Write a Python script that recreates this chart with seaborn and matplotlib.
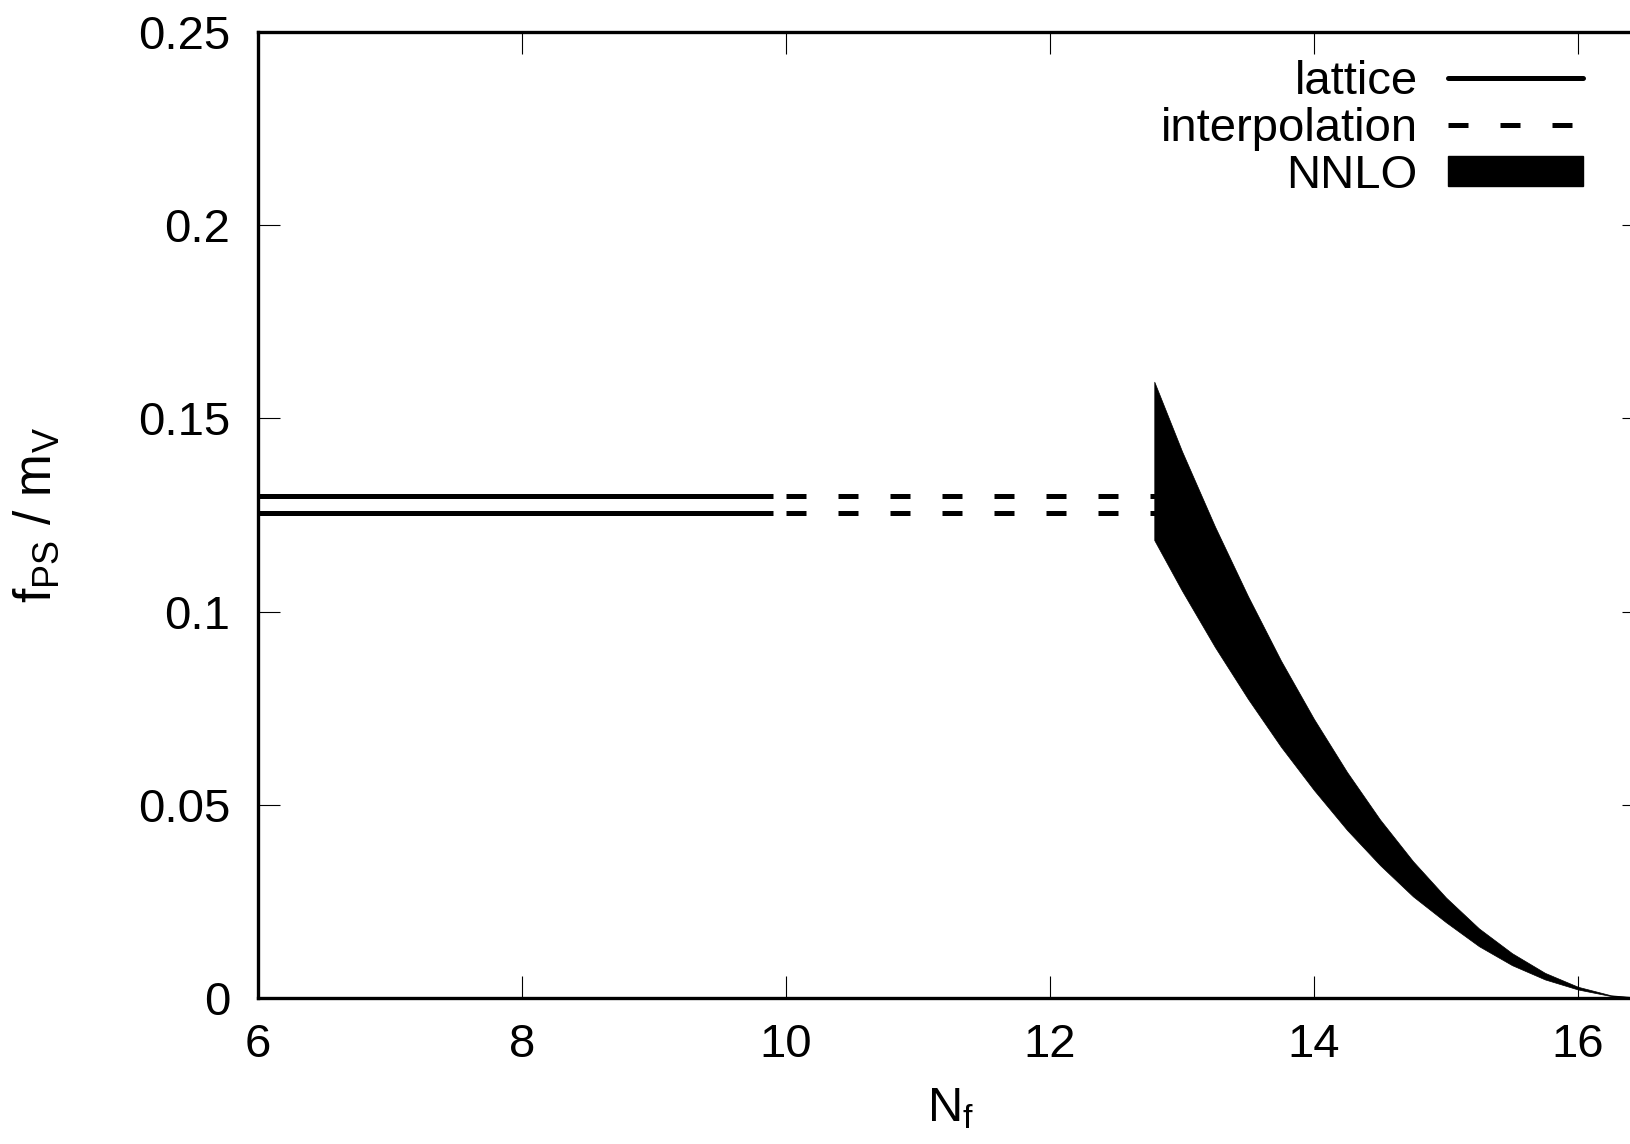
import matplotlib
matplotlib.use("Agg")
import matplotlib.pyplot as plt
from matplotlib.lines import Line2D
from matplotlib.patches import Patch
import seaborn as sns

# ──────────────────────────────────────────────────────────────
# Data
# ──────────────────────────────────────────────────────────────
lattice_nf = [6.0, 9.9]
lattice_hi = [0.1300, 0.1300]
lattice_lo = [0.1255, 0.1255]

interp_nf = [10.0, 12.8]
interp_hi = [0.1300, 0.1300]
interp_lo = [0.1255, 0.1255]

nnlo_nf = [12.79, 13.0, 13.25, 13.5, 13.75, 14.0, 14.25, 14.5,
           14.75, 15.0, 15.25, 15.5, 15.75, 16.0, 16.25, 16.5]
nnlo_hi = [0.1595, 0.1415, 0.1220, 0.1040, 0.0873, 0.0722, 0.0585, 0.0462,
           0.0354, 0.0260, 0.0180, 0.0116, 0.0065, 0.0029, 0.0007, 0.0]
nnlo_lo = [0.1185, 0.1054, 0.0908, 0.0774, 0.0650, 0.0538, 0.0435, 0.0344,
           0.0263, 0.0196, 0.0134, 0.0085, 0.0048, 0.0022, 0.0005, 0.0]

x_ticks = [6, 8, 10, 12, 14, 16]
y_ticks = [0, 0.05, 0.1, 0.15, 0.2, 0.25]
y_tick_labels = ["0", "0.05", "0.1", "0.15", "0.2", "0.25"]

# ──────────────────────────────────────────────────────────────
# Style
# ──────────────────────────────────────────────────────────────
sns.set_theme(style="ticks")
plt.rcParams["font.family"] = ["Liberation Sans", "DejaVu Sans"]
plt.rcParams["mathtext.fontset"] = "custom"
plt.rcParams["mathtext.rm"] = "Liberation Sans"
plt.rcParams["mathtext.it"] = "Liberation Sans:italic"
plt.rcParams["text.color"] = "black"
plt.rcParams["axes.labelcolor"] = "black"

FS = 34
LW = 3.6
DASH = (4.0, 6.4)

fig = plt.figure(figsize=(16.31, 11.44), dpi=100)
ax = fig.add_axes([258 / 1631, (1144 - 998) / 1144, 1386 / 1631, 966 / 1144])

for vals in (lattice_hi, lattice_lo):
    sns.lineplot(x=lattice_nf, y=vals, ax=ax, color="black", lw=LW,
                 solid_capstyle="butt")
for vals in (interp_hi, interp_lo):
    line = sns.lineplot(x=interp_nf, y=vals, ax=ax, color="black",
                        lw=LW).lines[-1]
    line.set_dashes(DASH)

# NNLO band
ax.fill_between(nnlo_nf, nnlo_lo, nnlo_hi, color="black", lw=0.5,
                edgecolor="black")

ax.set_xlim(6, 16.5)
ax.set_ylim(0, 0.25)
ax.set_xticks(x_ticks)
ax.set_yticks(y_ticks)
ax.set_yticklabels(y_tick_labels)
ax.tick_params(direction="in", length=16, width=0.8, color="black",
               labelsize=FS, top=True, right=True, labelcolor="black")
ax.tick_params(axis="y", pad=20)
ax.tick_params(axis="x", pad=18)
for sp in ax.spines.values():
    sp.set_linewidth(2.4)
    sp.set_color("black")

ax.set_xlabel(r"N$_{\rm f}$", fontsize=FS + 1, labelpad=14)
ax.set_ylabel(r"f$_{\rm PS}$ / m$_{\rm V}$", fontsize=FS + 3)
ax.yaxis.set_label_coords(-0.142, 0.5)

handles = [
    Line2D([], [], color="black", lw=LW),
    Line2D([], [], color="black", lw=LW, dashes=DASH),
    Patch(facecolor="black", edgecolor="black"),
]
labels = ["lattice", "interpolation", "NNLO"]
ax.legend(handles, labels, loc="upper right", bbox_to_anchor=(0.956, 0.971),
          frameon=False, markerfirst=False, fontsize=FS, handlelength=2.85,
          handletextpad=0.65, labelspacing=0.06, borderpad=0, borderaxespad=0,
          handleheight=0.62, labelcolor="black")

fig.savefig("out.png", dpi=100)
